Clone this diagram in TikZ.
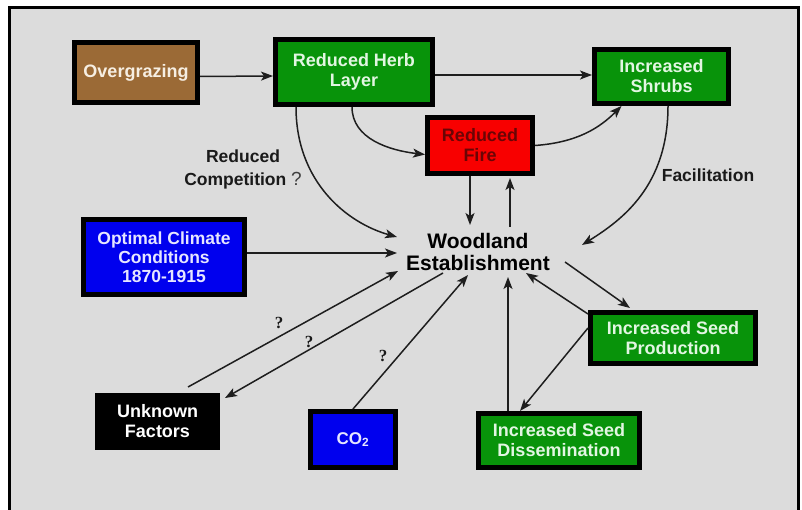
\documentclass[tikz,border=0pt]{standalone}
\usepackage{fontspec}
\setmainfont{Liberation Sans}
\newfontfamily\serifq{Liberation Serif}
\usetikzlibrary{arrows.meta}
\definecolor{bgc}{HTML}{DCDCDC}
\definecolor{brownc}{HTML}{9B6A36}
\definecolor{greenc}{HTML}{08930A}
\definecolor{bluec}{HTML}{0000EE}
\definecolor{redc}{HTML}{F80000}
\definecolor{firetext}{HTML}{6A0505}
\definecolor{greentext}{HTML}{E2F6E2}
\definecolor{browntext}{HTML}{F6EEE2}
\definecolor{bluetext}{HTML}{E6E6FF}
\definecolor{linec}{HTML}{1E1E1E}
\definecolor{labelc}{HTML}{1A1A1A}
\begin{document}
\begin{tikzpicture}[x=1pt,y=-1pt,
  box/.style={draw=black, line width=5pt, rectangle, align=center, inner sep=0pt,
    font=\bfseries\fontsize{18}{20}\selectfont},
  arr/.style={draw=linec, line width=1.5pt, -{Stealth[length=12pt,width=9pt,inset=3pt]}},
  lbl/.style={align=center, text=labelc, inner sep=0pt, font=\bfseries\fontsize{17.5}{23}\selectfont},
  qm/.style={text=labelc, inner sep=0pt, font=\serifq\bfseries\fontsize{17}{17}\selectfont}]
\useasboundingbox (0,0) rectangle (802,510);
\fill[white] (0,0) rectangle (802,510);
\fill[bgc] (9.5,7.5) rectangle (798.5,510);
\draw[line width=3pt] (9.5,510) -- (9.5,7.5) -- (798.5,7.5) -- (798.5,510);

% boxes
\node[box, fill=brownc, text=browntext, minimum width=123pt, minimum height=60pt] (over) at (136,72.5) {Overgrazing};
\node[box, fill=greenc, text=greentext, minimum width=157pt, minimum height=65pt] (herb) at (354,72) {Reduced Herb\\Layer};
\node[box, fill=greenc, text=greentext, minimum width=134pt, minimum height=54pt] (shrubs) at (661.5,76.5) {Increased\\Shrubs};
\node[box, fill=redc, text=firetext, minimum width=105pt, minimum height=56pt] (fire) at (480,145.5) {Reduced\\Fire};
\node[box, fill=bluec, text=bluetext, minimum width=161pt, minimum height=75pt,
  font=\bfseries\fontsize{17.5}{19}\selectfont] (climate) at (164,257) {Optimal Climate\\Conditions\\1870-1915};
\node[box, fill=greenc, text=greentext, minimum width=165pt, minimum height=51pt] (seedprod) at (673,338) {Increased Seed\\Production};
\node[box, fill=greenc, text=greentext, minimum width=161pt, minimum height=54pt] (dissem) at (559,440.5) {Increased Seed\\Dissemination};
\node[box, fill=black, text=white, minimum width=120pt, minimum height=52pt] (unknown) at (157.5,421.5) {Unknown\\Factors};
\node[box, fill=bluec, text=bluetext, minimum width=85pt, minimum height=56pt,
  font=\bfseries\fontsize{17}{19}\selectfont] (co2) at (353,439.5) {CO\textsubscript{2}};

\node[align=center, inner sep=0pt, font=\bfseries\fontsize{21}{22}\selectfont] (wood) at (478,252) {Woodland\\Establishment};

% labels
\node[lbl] (comp) at (243,169) {Reduced\\Competition {\mdseries\fontsize{19}{23}\selectfont\color{black!75}?}};
\node[lbl] (facil) at (708,175) {Facilitation};
\node[qm] (q1) at (279,323) {?};
\node[qm] (q2) at (309,342) {?};
\node[qm] (q3) at (383,356) {?};

% connectors
\draw[arr] ([shift={(0,4)}]over.east) -- ([shift={(0,4)}]herb.west);
\draw[arr] ([shift={(0,3)}]herb.east) -- ([shift={(0,-1.5)}]shrubs.west);
\draw[arr] ([shift={(-2,0)}]herb.south) .. controls +(0,32) and +(-35,-4) .. ([shift={(0,9)}]fire.west);
\draw[arr] ([shift={(-58,0)}]herb.south) .. controls +(0,75) and +(-50,-14) .. ([shift={(-81,-15)}]wood.center);
\draw[arr] (fire.east) .. controls +(42,-3) and +(-22,22) .. ([shift={(-40,0)}]shrubs.south);
\draw[arr] ([shift={(6.5,0)}]shrubs.south) .. controls +(0,80) and +(40,-25) .. ([shift={(104,-7)}]wood.center);
\draw[arr] ([shift={(-10,0)}]fire.south) -- ([shift={(-8,-27)}]wood.center);
\draw[arr] ([shift={(32,-25)}]wood.center) -- ([shift={(30,2)}]fire.south);
\draw[arr] ([shift={(0,-4)}]climate.east) -- ([shift={(-81,1)}]wood.center);
\draw[arr] ([shift={(87,10)}]wood.center) -- ([shift={(-43,-2)}]seedprod.north);
\draw[arr] ([shift={(0,4)}]seedprod.north west) -- ([shift={(48,21)}]wood.center);
\draw[arr] ([shift={(0,-10)}]seedprod.west) -- ([shift={(-39,0)}]dissem.north);
\draw[arr] ([shift={(32,0)}]dissem.north west) -- ([shift={(30,25)}]wood.center);
\draw[arr] (co2.north) -- ([shift={(-10,23)}]wood.center);
\draw[arr] ([shift={(30.5,-6)}]unknown.north) -- ([shift={(-80,19)}]wood.center);
\draw[arr] ([shift={(-35,21)}]wood.center) -- ([shift={(5,5)}]unknown.north east);
\end{tikzpicture}
\end{document}
